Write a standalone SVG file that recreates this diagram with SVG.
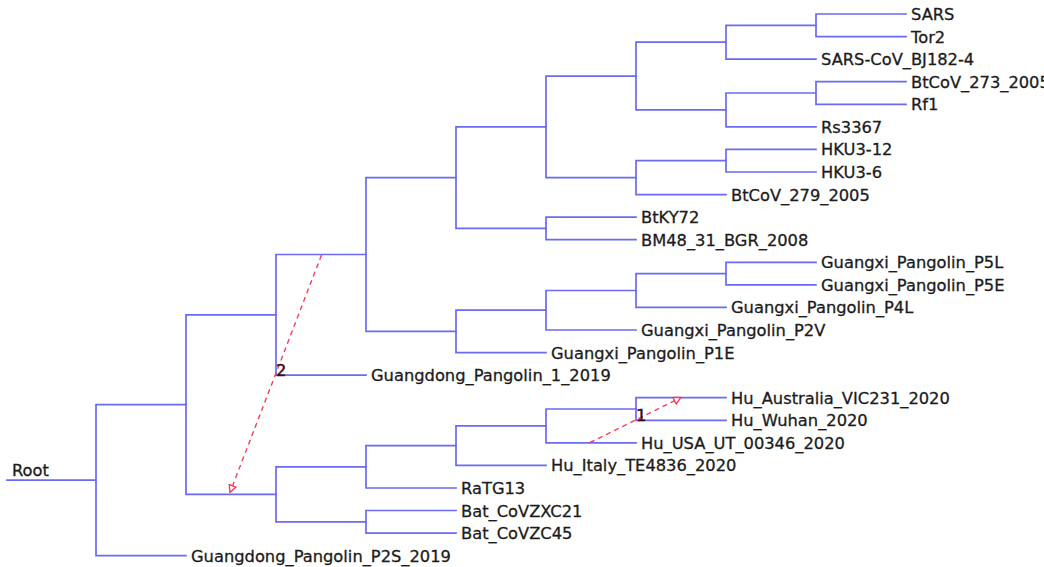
<svg xmlns="http://www.w3.org/2000/svg" width="1044" height="567" viewBox="0 0 1044 567">
  <style>
    .br { fill: none; stroke: #6a6af2; stroke-width: 1.7; stroke-linecap: square; }
    .lbl { font-family: "DejaVu Sans", Verdana, sans-serif; font-size: 16.3px; fill: #1c1c1c; stroke: #1c1c1c; stroke-width: 0.3; }
    .mv { fill: none; stroke: #f0405e; stroke-width: 1.4; stroke-dasharray: 5 4; }
    .num { font-family: "DejaVu Sans", Verdana, sans-serif; font-size: 16.3px; fill: #3a0f1e; stroke: #3a0f1e; stroke-width: 0.5; }
  </style>
  <defs>
    <marker id="openTri" viewBox="0 0 10 10" refX="9" refY="5" markerWidth="9" markerHeight="9" markerUnits="userSpaceOnUse" orient="auto">
      <path d="M1,1 L9,5 L1,9 Z" fill="#ffffff" stroke="#f0405e" stroke-width="1.6"/>
    </marker>
  </defs>
  <rect width="1044" height="567" fill="#ffffff"/>

  <!-- tree branches -->
  <g id="connectors" class="br">
    <!-- root -->
    <path d="M7,480.1 H96"/>
    <path d="M96,404.6 V555.7 M96,404.6 H186 M96,555.7 H186"/>
    <!-- node 186 -->
    <path d="M186,314.8 V494.3 M186,314.8 H276 M186,494.3 H276"/>
    <!-- upper clade 276 -->
    <path d="M276,254.5 V375.1 M276,254.5 H366 M276,375.1 H366"/>
    <path d="M366,177.6 V331.4 M366,177.6 H456 M366,331.4 H456"/>
    <path d="M456,126.9 V228.4 M456,126.9 H546 M456,228.4 H546"/>
    <path d="M546,76.1 V177.6 M546,76.1 H636 M546,177.6 H636"/>
    <path d="M636,42.2 V109.9 M636,42.2 H726 M636,109.9 H726"/>
    <path d="M726,25.3 V59.1 M726,25.3 H816 M726,59.1 H816"/>
    <path d="M816,14 V36.6 M816,14 H906 M816,36.6 H906"/>
    <path d="M726,93 V126.9 M726,93 H816 M726,126.9 H816"/>
    <path d="M816,81.7 V104.3 M816,81.7 H906 M816,104.3 H906"/>
    <path d="M636,160.7 V194.6 M636,160.7 H726 M636,194.6 H726"/>
    <path d="M726,149.4 V172 M726,149.4 H816 M726,172 H816"/>
    <path d="M546,217.1 V239.7 M546,217.1 H636 M546,239.7 H636"/>
    <path d="M456,310.2 V352.6 M456,310.2 H546 M456,352.6 H546"/>
    <path d="M546,290.5 V330 M546,290.5 H636 M546,330 H636"/>
    <path d="M636,273.6 V307.4 M636,273.6 H726 M636,307.4 H726"/>
    <path d="M726,262.3 V284.8 M726,262.3 H816 M726,284.8 H816"/>
    <!-- lower clade 276 -->
    <path d="M276,466.8 V521.8 M276,466.8 H366 M276,521.8 H366"/>
    <path d="M366,445.7 V488 M366,445.7 H456 M366,488 H456"/>
    <path d="M456,425.9 V465.4 M456,425.9 H546 M456,465.4 H546"/>
    <path d="M546,409 V442.8 M546,409 H636 M546,442.8 H636"/>
    <path d="M636,397.7 V420.3 M636,397.7 H726 M636,420.3 H726"/>
    <path d="M366,510.5 V533.1 M366,510.5 H456 M366,533.1 H456"/>
  </g>

  <!-- leaf labels -->
  <g id="root" class="lbl"><text x="12" y="476">Root</text></g>
  <g id="leaf-sars" class="lbl"><text x="911" y="20">SARS</text></g>
  <g id="leaf-tor2" class="lbl"><text x="911" y="42.6">Tor2</text></g>
  <g id="leaf-bj182" class="lbl"><text x="821" y="65.1">SARS-CoV_BJ182-4</text></g>
  <g id="leaf-btcov273" class="lbl"><text x="911" y="87.7">BtCoV_273_2005</text></g>
  <g id="leaf-rf1" class="lbl"><text x="911" y="110.3">Rf1</text></g>
  <g id="leaf-rs3367" class="lbl"><text x="821" y="132.9">Rs3367</text></g>
  <g id="leaf-hku3-12" class="lbl"><text x="821" y="155.4">HKU3-12</text></g>
  <g id="leaf-hku3-6" class="lbl"><text x="821" y="178">HKU3-6</text></g>
  <g id="leaf-btcov279" class="lbl"><text x="731" y="200.6">BtCoV_279_2005</text></g>
  <g id="leaf-btky72" class="lbl"><text x="641" y="223.1">BtKY72</text></g>
  <g id="leaf-bm48" class="lbl"><text x="641" y="245.7">BM48_31_BGR_2008</text></g>
  <g id="leaf-gx-p5l" class="lbl"><text x="821" y="268.3">Guangxi_Pangolin_P5L</text></g>
  <g id="leaf-gx-p5e" class="lbl"><text x="821" y="290.8">Guangxi_Pangolin_P5E</text></g>
  <g id="leaf-gx-p4l" class="lbl"><text x="731" y="313.4">Guangxi_Pangolin_P4L</text></g>
  <g id="leaf-gx-p2v" class="lbl"><text x="641" y="336">Guangxi_Pangolin_P2V</text></g>
  <g id="leaf-gx-p1e" class="lbl"><text x="551" y="358.6">Guangxi_Pangolin_P1E</text></g>
  <g id="leaf-gd-1" class="lbl"><text x="371" y="381.1">Guangdong_Pangolin_1_2019</text></g>
  <g id="leaf-hu-aus" class="lbl"><text x="731" y="403.7">Hu_Australia_VIC231_2020</text></g>
  <g id="leaf-hu-wuhan" class="lbl"><text x="731" y="426.3">Hu_Wuhan_2020</text></g>
  <g id="leaf-hu-usa" class="lbl"><text x="641" y="448.8">Hu_USA_UT_00346_2020</text></g>
  <g id="leaf-hu-italy" class="lbl"><text x="551" y="471.4">Hu_Italy_TE4836_2020</text></g>
  <g id="leaf-ratg13" class="lbl"><text x="461" y="494">RaTG13</text></g>
  <g id="leaf-zxc21" class="lbl"><text x="461" y="516.5">Bat_CoVZXC21</text></g>
  <g id="leaf-zc45" class="lbl"><text x="461" y="539.1">Bat_CoVZC45</text></g>
  <g id="leaf-gd-p2s" class="lbl"><text x="191" y="561.7">Guangdong_Pangolin_P2S_2019</text></g>

  <!-- transfer events -->
  <g id="transfer-2">
    <path class="mv" d="M321.5,255 L230,492.5" marker-end="url(#openTri)"/>
    <text class="num" x="276" y="376">2</text>
  </g>
  <g id="transfer-1">
    <path class="mv" d="M590,442.5 L681,397.5" marker-end="url(#openTri)"/>
    <text class="num" x="636" y="421">1</text>
  </g>
</svg>
